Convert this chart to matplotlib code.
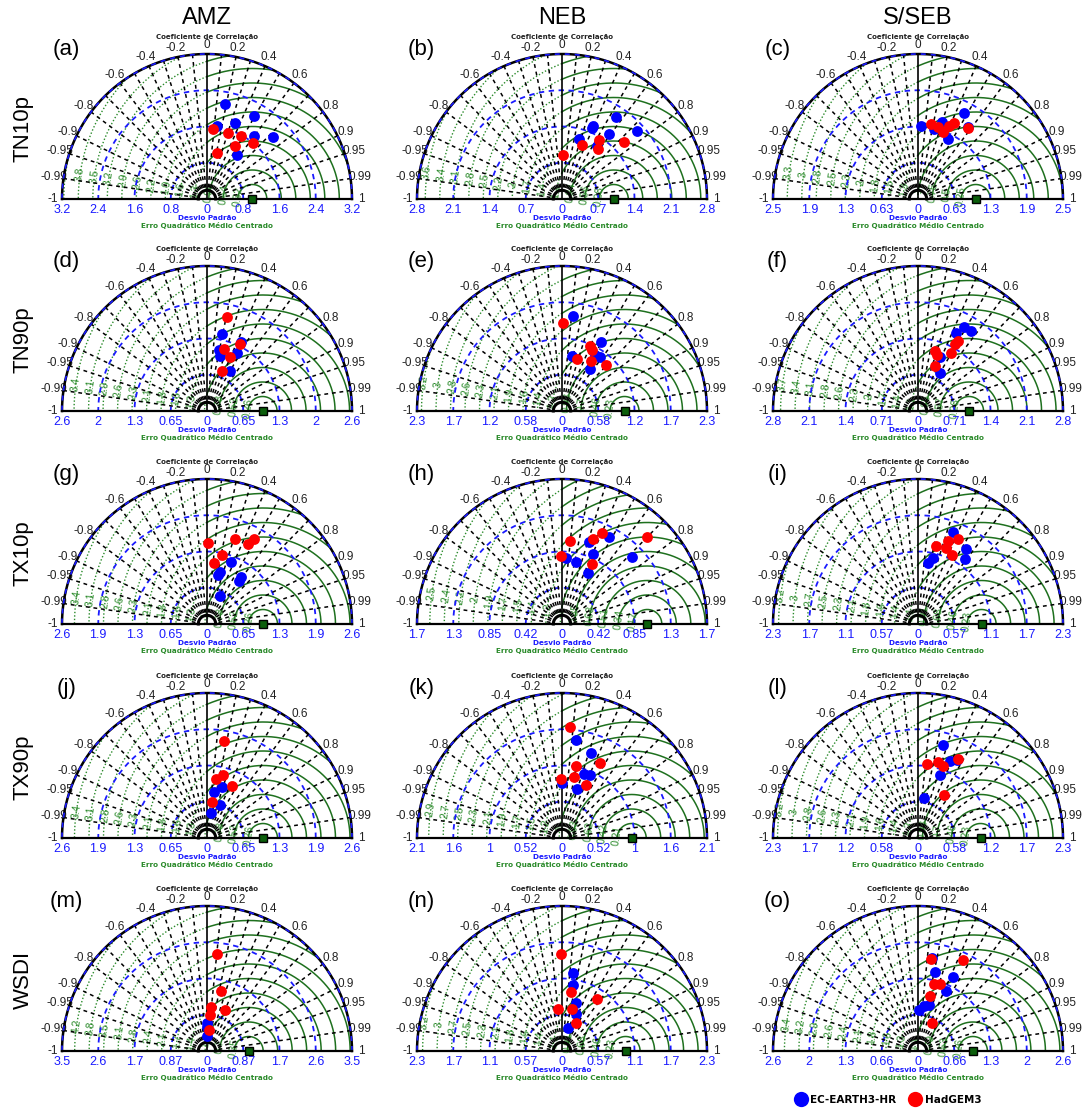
import numpy as np
import matplotlib
matplotlib.use('Agg')
import matplotlib.pyplot as plt
from matplotlib.lines import Line2D

regions = ['AMZ', 'NEB', 'S/SEB']
indices = ['TN10p', 'TN90p', 'TX10p', 'TX90p', 'WSDI']
letters = 'abcdefghijklmno'

# max std shown on each diagram (row by row)
std_max = [3.2, 2.8, 2.51,
           2.61, 2.32, 2.84,
           2.59, 1.7, 2.28,
           2.59, 2.08, 2.32,
           3.48, 2.28, 2.64]
std_ref = 1.0

corr_lines = [0.1, 0.2, 0.3, 0.4, 0.5, 0.6, 0.7, 0.8, 0.9, 0.95, 0.99]
corr_labels = [0, 0.2, 0.4, 0.6, 0.8, 0.9, 0.95, 0.99, 1]

# EC-EARTH3-HR (std, corr) per panel
ec_std = [
    [2.14, 2.10, 1.78, 1.63, 1.73, 2.00, 1.18],
    [1.90, 1.53, 1.48, 1.95, 1.55, 1.20, 1.22],
    [1.68, 1.27, 1.40, 1.24, 1.52, 1.17],
    [1.42, 1.38, 1.11, 1.02, 1.17, 0.83],
    [1.53, 1.27, 1.04, 0.90, 1.06, 0.81],
    [1.87, 1.87, 1.71, 1.15, 0.87],
    [1.18, 0.95, 0.90, 1.04, 0.96, 0.56],
    [1.01, 1.16, 0.90, 0.78, 0.74, 1.14, 0.67],
    [1.55, 1.40, 1.26, 1.07, 0.97],
    [0.94, 0.83, 0.63, 0.45],
    [1.42, 1.29, 0.97, 0.99, 0.79, 0.74],
    [1.54, 1.33, 1.40, 1.07, 0.65],
    [0.68, 0.58, 0.36],
    [1.24, 1.06, 0.78, 0.62, 0.37],
    [1.71, 1.47, 1.50, 1.21, 0.86, 0.82, 0.74],
]
ec_corr = [
    [0.19, 0.49, 0.35, 0.14, 0.60, 0.73, 0.57],
    [0.55, 0.39, 0.39, 0.74, 0.59, 0.28, 0.55],
    [0.47, 0.04, 0.30, 0.22, 0.57, 0.45],
    [0.19, 0.44, 0.19, 0.23, 0.46, 0.49],
    [0.12, 0.49, 0.50, 0.17, 0.58, 0.55],
    [0.48, 0.55, 0.44, 0.38, 0.50],
    [0.36, 0.24, 0.22, 0.58, 0.59, 0.42],
    [0.31, 0.48, 0.41, 0.06, 0.22, 0.72, 0.46],
    [0.35, 0.54, 0.59, 0.22, 0.17],
    [0.28, 0.15, 0.36, 0.14],
    [0.14, 0.32, 0.33, 0.40, 0.00, 0.29],
    [0.26, 0.38, 0.45, 0.33, 0.14],
    [0.01, -0.01, 0.00],
    [0.14, 0.17, 0.28, 0.36, 0.26],
    [0.15, 0.21, 0.43, 0.42, 0.23, 0.13, 0.03],
]

# HadGEM3 (std, corr) per panel
had_std = [
    [1.55, 1.53, 1.58, 1.33, 1.60, 1.04],
    [1.35, 1.11, 1.19, 1.63, 0.85],
    [1.32, 1.29, 1.23, 1.38, 1.45, 1.50],
    [1.73, 1.34, 1.16, 1.05, 0.77],
    [1.41, 1.13, 1.08, 0.87, 0.93, 1.02],
    [1.58, 1.50, 1.22, 1.15, 1.31, 0.94],
    [1.44, 1.59, 1.74, 1.61, 1.26, 1.10],
    [0.98, 1.06, 1.17, 1.43, 0.80, 0.79],
    [1.48, 1.38, 1.26, 1.28, 1.21],
    [1.75, 1.16, 1.07, 1.02, 0.65],
    [1.60, 1.05, 1.20, 0.85, 0.89, 0.83],
    [1.20, 1.26, 1.22, 1.42, 0.80],
    [2.33, 1.48, 1.06, 1.07, 0.87, 0.50],
    [1.52, 0.94, 0.99, 0.66, 0.68, 0.49],
    [1.69, 1.85, 1.25, 1.28, 1.03, 0.57],
]
had_corr = [
    [0.08, 0.30, 0.47, 0.47, 0.63, 0.22],
    [0.53, 0.35, 0.58, 0.74, 0.02],
    [0.17, 0.27, 0.35, 0.39, 0.43, 0.58],
    [0.21, 0.44, 0.27, 0.39, 0.34],
    [0.01, 0.39, 0.44, 0.27, 0.50, 0.69],
    [0.50, 0.48, 0.27, 0.32, 0.50, 0.36],
    [0.01, 0.31, 0.48, 0.45, 0.21, 0.11],
    [0.09, 0.34, 0.40, 0.70, -0.02, 0.45],
    [0.43, 0.34, 0.23, 0.35, 0.44],
    [0.17, 0.25, 0.15, 0.43, 0.14],
    [0.07, 0.19, 0.45, -0.01, 0.19, 0.41],
    [0.12, 0.25, 0.33, 0.45, 0.51],
    [0.10, 0.22, 0.09, 0.40, 0.07, 0.11],
    [-0.01, 0.15, 0.56, -0.09, 0.22, 0.46],
    [0.14, 0.44, 0.23, 0.32, 0.22, 0.46],
]

W, H = 1089, 1113
col_x = [207, 562, 918]
row_y = [199, 411, 624, 838, 1051]
rad = 145  # pixels for the outer arc

green = '#1e701e'
blue = '#1a1aff'
num_font = 'Liberation Sans'

fig = plt.figure(figsize=(W / 100, H / 100), dpi=100)


def polar_xy(std, corr, R):
    std = np.asarray(std, dtype=float)
    corr = np.asarray(corr, dtype=float)
    return std * corr / R, std * np.sqrt(1 - corr ** 2) / R


def taylor(ax, R, s1, c1, s2, c2, letter):
    ref = std_ref / R
    phi = np.linspace(0, np.pi, 1500)

    # centred RMS circles
    k = 1
    while k * 0.1 <= 1 + ref + 1e-9:
        rr = k * 0.1
        x = ref + rr * np.cos(phi)
        y = rr * np.sin(phi)
        inside = x ** 2 + y ** 2 <= 1.0
        ax.plot(np.where(inside & (x >= 0), x, np.nan), y, color=green, lw=1.1, zorder=1)
        ax.plot(np.where(inside & (x < 0), x, np.nan), y, color='#2a8a2a', lw=1.0,
                ls=(0, (1, 1.5)), zorder=1)
        a = np.deg2rad(172)
        lx, ly = ref + rr * np.cos(a), rr * np.sin(a)
        if lx ** 2 + ly ** 2 < 0.96:
            ax.text(lx, ly, '%.2g' % (k * R / 10), color='#2a8a2a', fontsize=7.5,
                    rotation=82, ha='center', va='center', family=num_font, zorder=2)
        k += 1

    # std circles
    for f in [0.25, 0.5, 0.75]:
        ax.plot(f * np.cos(phi), f * np.sin(phi), color=blue, lw=1.3,
                dashes=(3, 2.5), zorder=3)

    # correlation rays
    for c in corr_lines:
        for sgn in (1, -1):
            t = np.arccos(sgn * c)
            ax.plot([0.08 * np.cos(t), np.cos(t)], [0.08 * np.sin(t), np.sin(t)],
                    color='black', lw=1.1, dashes=(2.5, 2.5), zorder=4)

    # frame
    ax.plot(np.cos(phi), np.sin(phi), color='black', lw=1.8, zorder=5)
    ax.plot(np.cos(phi), np.sin(phi), color=blue, lw=1.2, dashes=(3, 3), zorder=5)
    ax.plot([-1, 1], [0, 0], color='black', lw=1.6, zorder=5)
    ax.plot([0, 0], [0, 1], color='black', lw=1.2, zorder=5)
    ax.plot(0.06 * np.cos(phi), 0.06 * np.sin(phi), color='black', lw=2.2, zorder=5)

    # correlation labels
    for c in corr_labels:
        for sgn in ((1, -1) if c != 0 else (1,)):
            t = np.arccos(sgn * c)
            lab = '%g' % (sgn * c)
            ax.text(1.065 * np.cos(t), 1.065 * np.sin(t), lab, fontsize=8.5,
                    ha='center', va='center', color='#222222', family=num_font)

    # std tick labels
    for f in [-1, -0.75, -0.5, -0.25, 0, 0.25, 0.5, 0.75, 1]:
        ax.text(f, -0.076, '%.2g' % abs(f * R) if f != 0 else '0', fontsize=9,
                ha='center', va='center', color=blue, family=num_font)

    ax.text(0, 1.118, 'Coeficiente de Correlação', fontsize=5, fontweight='bold',
            ha='center', va='center', color='#222222')
    ax.text(0, -0.128, 'Desvio Padrão', fontsize=5.2, fontweight='bold',
            ha='center', va='center', color=blue)
    ax.text(0, -0.18, 'Erro Quadrático Médio Centrado', fontsize=5.2,
            fontweight='bold', ha='center', va='center', color='#2a8a2a')
    ax.text(-0.97, 1.03, '(%s)' % letter, fontsize=16, ha='center', va='center',
            family=num_font)

    # reference point
    ax.plot([ref], [0], 's', ms=5.5, mfc='#0b5e0b', mec='black', mew=1, zorder=7)

    x1, y1 = polar_xy(s1, c1, R)
    x2, y2 = polar_xy(s2, c2, R)
    ax.plot(x1, y1, 'o', ms=7.8, color='#0000ff', mec='none', zorder=8)
    ax.plot(x2, y2, 'o', ms=7.8, color='#ff0000', mec='none', zorder=9)


for i in range(5):
    for j in range(3):
        n = i * 3 + j
        cx, by = col_x[j], row_y[i]
        left, right = cx - 185, cx + 185
        top, bot = by - 185, by + 45
        ax = fig.add_axes([left / W, 1 - bot / H, (right - left) / W, (bot - top) / H])
        ax.set_xlim(-185 / rad, 185 / rad)
        ax.set_ylim(-45 / rad, 185 / rad)
        ax.axis('off')
        taylor(ax, std_max[n], ec_std[n], ec_corr[n], had_std[n], had_corr[n], letters[n])

for j, name in enumerate(regions):
    fig.text(col_x[j] / W, 1 - 18 / H, name, fontsize=17, ha='center', va='center',
             family=num_font)
for i, name in enumerate(indices):
    fig.text(23 / W, 1 - (row_y[i] - 71) / H, name, fontsize=16, rotation=90,
             ha='center', va='center', family=num_font)

handles = [Line2D([], [], ls='', marker='o', ms=11, color='#0000ff', mec='none'),
           Line2D([], [], ls='', marker='o', ms=11, color='#ff0000', mec='none')]
fig.legend(handles, ['EC-EARTH3-HR', 'HadGEM3'], loc='center', ncol=2,
           bbox_to_anchor=(888 / W, 1 - 1100 / H), frameon=False,
           prop={'weight': 'bold', 'size': 7.5}, handletextpad=0.3,
           columnspacing=1.2, handlelength=1.2)

fig.savefig('out.png', dpi=100)
